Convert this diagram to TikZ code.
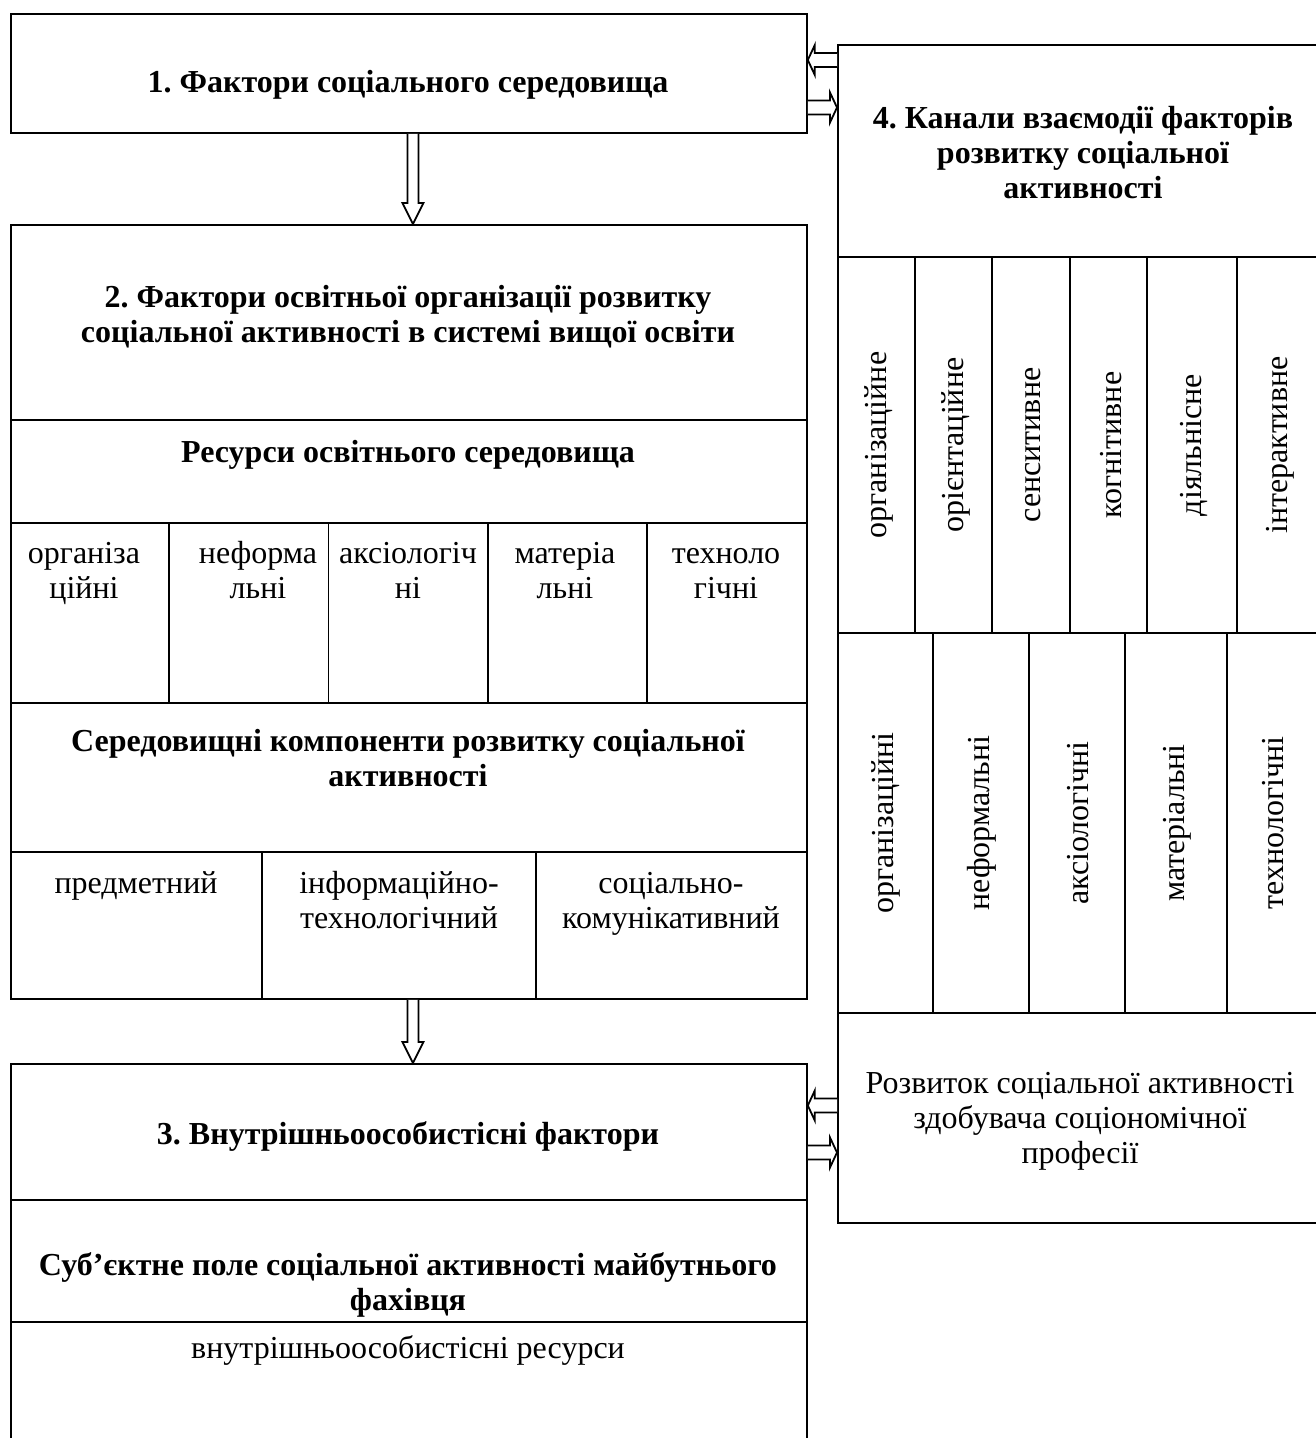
\documentclass[tikz,border=0pt]{standalone}
\usepackage{fontspec}
\setmainfont{Liberation Serif}
\usetikzlibrary{calc}
\frenchspacing
\begin{document}
\begin{tikzpicture}[x=1pt,y=-1pt,
  box/.style={draw, line width=1.8pt, inner sep=0pt, anchor=north west},
  txt/.style={align=center, inner sep=0pt, font=\fontsize{32}{35}\selectfont},
  btxt/.style={txt, font=\fontsize{32}{35}\selectfont\bfseries},
  vtxt/.style={txt, rotate=90},
  sep/.style={line width=1.8pt},
  barrow/.style={draw, line width=1.8pt, fill=white, line join=miter}]
\useasboundingbox (0,0) rectangle (1316,1438);
\clip (0,0) rectangle (1316,1438);

% boxes
\node[box, minimum width=796pt, minimum height=119pt] (b1) at (10,13) {};
\node[box, minimum width=796pt, minimum height=774pt] (b2) at (10,224) {};
\node[box, minimum width=796pt, minimum height=420pt] (b3) at (10,1063) {};
\node[box, minimum width=485pt, minimum height=1178pt] (b4) at (837,44) {};

% box 1
\node[btxt] (t1) at (408,85) {1. Фактори соціального середовища};

% box 2
\node[btxt] (t2) at (408,317) {2. Фактори освітньої організації розвитку\\соціальної активності в системі вищої освіти};
\draw[sep] (b2.west |- 0,420) -- (b2.east |- 0,420);
\node[btxt] (t2a) at (408,455) {Ресурси освітнього середовища};
\draw[sep] (b2.west |- 0,523) -- (b2.east |- 0,523);
\foreach \x in {169.2,328.4,487.6,646.8} \draw[sep] (\x,523) -- (\x,703);
\node[txt, anchor=north] (r1) at (84,539) {\strut організа\\\strut ційні};
\node[txt, anchor=north] (r2) at (258,539) {\strut неформа\\\strut льні};
\node[txt, anchor=north] (r3) at (408,539) {\strut аксіологіч\\\strut ні};
\node[txt, anchor=north] (r4) at (565,539) {\strut матеріа\\\strut льні};
\node[txt, anchor=north] (r5) at (726,539) {\strut техноло\\\strut гічні};
\draw[sep] (b2.west |- 0,703) -- (b2.east |- 0,703);
\node[btxt] (t2b) at (408,758) {Середовищні компоненти розвитку соціальної\\активності};
\draw[sep] (b2.west |- 0,852) -- (b2.east |- 0,852);
\foreach \x in {262,536} \draw[sep] (\x,852) -- (\x,998);
\node[txt, anchor=north] (c1) at (136,869) {\strut предметний};
\node[txt, anchor=north] (c2) at (399,869) {\strut інформаційно-\\\strut технологічний};
\node[txt, anchor=north] (c3) at (671,869) {\strut соціально-\\\strut комунікативний};

% box 3
\node[btxt] (t3) at (408,1136) {3. Внутрішньоособистісні фактори};
\draw[sep] (b3.west |- 0,1200) -- (b3.east |- 0,1200);
\node[btxt] (t3a) at (408,1285) {Суб’єктне поле соціальної активності майбутнього\\фахівця};
\draw[sep] (b3.west |- 0,1322) -- (b3.east |- 0,1322);
\node[txt] (t3b) at (408,1350) {внутрішньоособистісні ресурси};

% box 4
\node[btxt] (t4) at (1083,153) {4. Канали взаємодії факторів\\розвитку соціальної\\активності};
\draw[sep] (b4.west |- 0,257) -- (b4.east |- 0,257);
\foreach \x in {915,992,1070,1147,1237} \draw[sep] (\x,257) -- (\x,633);
\node[vtxt] (k1) at (879,445) {організаційне};
\node[vtxt] (k2) at (956,445) {орієнтаційне};
\node[vtxt] (k3) at (1033,445) {сенситивне};
\node[vtxt] (k4) at (1111,445) {когнітивне};
\node[vtxt] (k5) at (1194,445) {діяльнісне};
\node[vtxt] (k6) at (1280,445) {інтерактивне};
\draw[sep] (b4.west |- 0,633) -- (b4.east |- 0,633);
\foreach \x in {933,1029,1125,1227} \draw[sep] (\x,633) -- (\x,1013);
\node[vtxt] (m1) at (886,823) {організаційні};
\node[vtxt] (m2) at (982,823) {неформальні};
\node[vtxt] (m3) at (1078,823) {аксіологічні};
\node[vtxt] (m4) at (1177,823) {матеріальні};
\node[vtxt] (m5) at (1273,823) {технологічні};
\draw[sep] (b4.west |- 0,1013) -- (b4.east |- 0,1013);
\node[txt] (t4b) at (1080,1121) {Розвиток соціальної активності\\здобувача соціономічної\\професії};

% down arrows
\coordinate (a1t) at ($(b1.south)+(4,0)$);
\coordinate (a1b) at (a1t |- b2.north);
\draw[barrow] ($(a1t)+(-5.5,0)$) -- ($(a1b)+(-5.5,-21)$) -- ++(-5,0) -- (a1b) -- ++(10.5,-21) -- ++(-5,0) -- ($(a1t)+(5.5,0)$);
\coordinate (a2t) at ($(b2.south)+(4,0)$);
\coordinate (a2b) at (a2t |- b3.north);
\draw[barrow] ($(a2t)+(-5.5,0)$) -- ($(a2b)+(-5.5,-21)$) -- ++(-5,0) -- (a2b) -- ++(10.5,-21) -- ++(-5,0) -- ($(a2t)+(5.5,0)$);

% side arrows, top
\coordinate (L1) at (b1.east |- 0,60);  \coordinate (R1) at (b4.west |- 0,60);
\draw[barrow] ($(R1)+(0,-7)$) -- ($(L1)+(7,-7)$) -- ++(0,-8) -- (L1) -- ++(7,15) -- ++(0,-8) -- ($(R1)+(0,7)$);
\coordinate (L2) at (b1.east |- 0,107.5);  \coordinate (R2) at (b4.west |- 0,107.5);
\draw[barrow] ($(L2)+(0,-7)$) -- ($(R2)+(-7,-7)$) -- ++(0,-8) -- (R2) -- ++(-7,15) -- ++(0,-8) -- ($(L2)+(0,7)$);
% side arrows, bottom
\coordinate (L3) at (b3.east |- 0,1105.5);  \coordinate (R3) at (b4.west |- 0,1105.5);
\draw[barrow] ($(R3)+(0,-7)$) -- ($(L3)+(7,-7)$) -- ++(0,-8) -- (L3) -- ++(7,15) -- ++(0,-8) -- ($(R3)+(0,7)$);
\coordinate (L4) at (b3.east |- 0,1152.5);  \coordinate (R4) at (b4.west |- 0,1152.5);
\draw[barrow] ($(L4)+(0,-7)$) -- ($(R4)+(-7,-7)$) -- ++(0,-8) -- (R4) -- ++(-7,15) -- ++(0,-8) -- ($(L4)+(0,7)$);
\end{tikzpicture}
\end{document}
